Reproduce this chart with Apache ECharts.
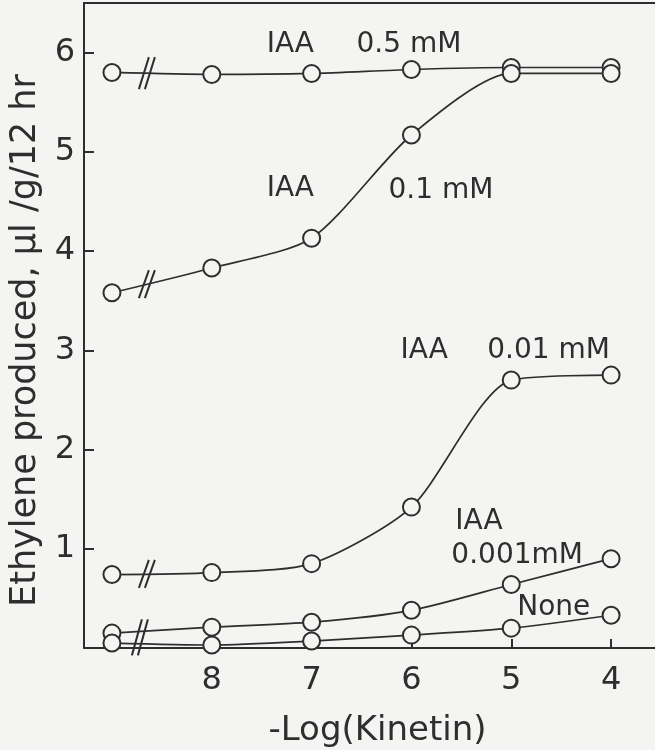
<!DOCTYPE html>
<html><head><meta charset="utf-8">
<script src="https://cdn.jsdelivr.net/npm/echarts@6/dist/echarts.min.js"></script>
<style>html,body{margin:0;padding:0;background:#f4f4f2}#chart{width:655px;height:750px}</style>
</head><body><div id="chart"></div>
<script>
// -Log(Kinetin); 9 stands for the control (no kinetin), drawn beyond the axis break
const logKinetin = [9, 8, 7, 6, 5, 4];
const iaa05  = [5.80, 5.78, 5.79, 5.83, 5.85, 5.85];
const iaa01  = [3.58, 3.83, 4.13, 5.17, 5.79, 5.79];
const iaa001 = [0.74, 0.76, 0.85, 1.42, 2.70, 2.75];
const iaa0001 = [0.15, 0.21, 0.26, 0.38, 0.64, 0.90];
const noneIAA = [0.05, 0.03, 0.07, 0.13, 0.20, 0.33];
const xTickValues = [8, 7, 6, 5, 4];
const yTickValues = [1, 2, 3, 4, 5, 6];
const labels = [
  ['IAA', 7.45, 6.08], ['0.5 mM', 6.55, 6.08],
  ['IAA', 7.45, 4.63], ['0.1 mM', 6.23, 4.61],
  ['IAA', 6.11, 3.00], ['0.01 mM', 5.24, 3.00],
  ['IAA', 5.56, 1.27], ['0.001mM', 5.60, 0.93],
  ['None', 4.94, 0.41]
];

const INK = '#2e2e2e';
const BG = '#f4f4f2';
const FONT = 'DejaVu Sans';
const breakX = 8.65;
const interp = (arr) => arr[0] + (arr[1] - arr[0]) * (9 - breakX);
const breaks = [
  [breakX, interp(iaa05), 32],
  [breakX, interp(iaa01), 28],
  [breakX, interp(iaa001), 28],
  [breakX + 0.07, (interp(iaa0001) + interp(noneIAA)) / 2, 36]
];

function pairs(ys) { return logKinetin.map((x, i) => [x, ys[i]]); }
function lineSeries(name, ys) {
  return {
    name, type: 'line', data: pairs(ys), smooth: 0.25,
    symbol: 'circle', symbolSize: 17,
    itemStyle: { color: BG, borderColor: INK, borderWidth: 2 },
    lineStyle: { color: INK, width: 1.7 },
    emphasis: { disabled: true }, z: 3
  };
}

const chart = echarts.init(document.getElementById('chart'), null, { renderer: 'canvas' });
chart.setOption({
  backgroundColor: BG,
  animation: false,
  grid: { left: 84, right: 0, top: 3, bottom: 102, containLabel: false, outerBoundsMode: 'none' },
  xAxis: [{
    type: 'value', inverse: true, min: 3.56, max: 9.28,
    name: '-Log(Kinetin)', nameLocation: 'middle', nameGap: 66,
    nameTextStyle: { fontFamily: FONT, fontSize: 34, color: INK, padding: [0, 0, 0, 16] },
    axisLine: { show: true, onZero: false, lineStyle: { color: INK, width: 2 } },
    axisTick: { show: true, inside: true, length: 9, customValues: xTickValues, lineStyle: { color: INK, width: 2 } },
    axisLabel: { customValues: xTickValues, fontFamily: FONT, fontSize: 32, color: INK, margin: 17 },
    splitLine: { show: false }
  }, {
    type: 'value', inverse: true, min: 3.56, max: 9.28, position: 'top',
    axisLine: { show: true, onZero: false, lineStyle: { color: INK, width: 2 } },
    axisTick: { show: false }, axisLabel: { show: false }, splitLine: { show: false }
  }],
  yAxis: {
    type: 'value', min: 0, max: 6.5,
    name: 'Ethylene produced, µl /g/12 hr', nameLocation: 'middle', nameGap: 40,
    nameTextStyle: { fontFamily: FONT, fontSize: 35, color: INK, padding: [0, 30, 0, 0] },
    axisLine: { show: true, onZero: false, lineStyle: { color: INK, width: 2 } },
    axisTick: { show: true, inside: true, length: 10, customValues: yTickValues, lineStyle: { color: INK, width: 2 } },
    axisLabel: { customValues: yTickValues, fontFamily: FONT, fontSize: 32, color: INK, margin: 9 },
    splitLine: { show: false }
  },
  series: [
    lineSeries('IAA 0.5 mM', iaa05),
    lineSeries('IAA 0.1 mM', iaa01),
    lineSeries('IAA 0.01 mM', iaa001),
    lineSeries('IAA 0.001 mM', iaa0001),
    lineSeries('None', noneIAA),
    {
      type: 'custom', name: 'breaks', data: breaks, z: 4, silent: true,
      renderItem: function (params, api) {
        const c = api.coord([api.value(0), api.value(1)]);
        const h = api.value(2);
        const children = [-3, 3].map(dx => ({
          type: 'line',
          shape: { x1: c[0] + dx - 5, y1: c[1] + h / 2, x2: c[0] + dx + 5, y2: c[1] - h / 2 },
          style: { stroke: INK, lineWidth: 2 }
        }));
        return { type: 'group', children };
      }
    },
    {
      type: 'custom', name: 'labels', data: labels.map(l => [l[1], l[2]]), z: 5, silent: true,
      renderItem: function (params, api) {
        const c = api.coord([api.value(0), api.value(1)]);
        return {
          type: 'text', x: c[0], y: c[1],
          style: { text: labels[params.dataIndex][0], fill: INK, font: '28px "DejaVu Sans"', textAlign: 'left', textVerticalAlign: 'middle' }
        };
      }
    }
  ]
});
</script></body></html>
